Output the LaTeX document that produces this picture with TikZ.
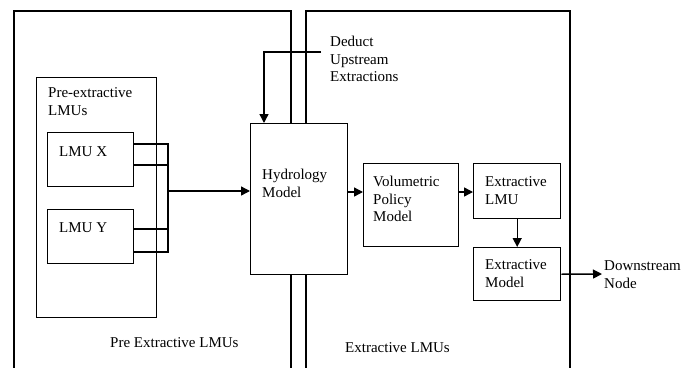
\documentclass[tikz,border=0pt]{standalone}
\usepackage{fontspec}
\setmainfont{Liberation Serif}
\usetikzlibrary{arrows.meta,calc}
\begin{document}
\begin{tikzpicture}[x=1pt,y=-1pt,
  ln/.style={line width=1.4pt},
  box/.style={draw,line width=1.4pt,fill=white,rectangle,inner sep=0pt,anchor=north west},
  lbl/.style={anchor=north west,inner sep=0pt,align=left,font=\fontsize{15}{17.5}\selectfont},
  arr/.style={ln,-{Triangle[length=9pt,width=9pt]}}]
\useasboundingbox (0,0) rectangle (696,367);
\fill[white] (0,0) rectangle (696,367);
% panels
\draw[ln] (14,370) -- (14,11) -- (291,11) -- (291,370);
\draw[ln] (306,370) -- (306,11) -- (570,11) -- (570,370);
% boxes
\node[box,minimum width=120pt,minimum height=240pt] (pre) at (36,77) {};
\node[box,minimum width=86pt,minimum height=54pt] (lmux) at (47,132) {};
\node[box,minimum width=86pt,minimum height=54pt] (lmuy) at (47,209) {};
\node[box,minimum width=97pt,minimum height=151pt] (hyd) at (250,123) {};
\node[box,minimum width=95pt,minimum height=83pt] (vol) at (363,163) {};
\node[box,minimum width=87pt,minimum height=55pt] (elmu) at (473,163) {};
\node[box,minimum width=87pt,minimum height=53pt] (emod) at (473,247) {};
% texts
\node[lbl] (tpre) at (48,85.4) {\strut Pre-extractive\\LMUs};
\node[lbl] (tx) at (59,144.4) {\strut LMU X};
\node[lbl] (ty) at (59,220.4) {\strut LMU Y};
\node[lbl] (thyd) at (262,167.4) {\strut Hydrology\\Model};
\node[lbl] (tded) at (330,34.4) {\strut Deduct\\Upstream\\Extractions};
\node[lbl] (tvol) at (373,174.4) {\strut Volumetric\\Policy\\Model};
\node[lbl] (telmu) at (485,174.4) {\strut Extractive\\LMU};
\node[lbl] (temod) at (485,257.4) {\strut Extractive\\Model};
\node[lbl] (tdown) at (604,258.4) {\strut Downstream\\Node};
\node[lbl] (tpanl) at (110,335.4) {\strut Pre Extractive LMUs};
\node[lbl] (tpanr) at (345,340.4) {\strut Extractive LMUs};
% connectors
\coordinate (hub) at (168,191);
\draw[ln] (lmux.east |- 0,144) -| (hub);
\draw[ln] (lmux.east |- 0,165) -| (hub);
\draw[ln] (lmuy.east |- 0,229) -| (hub);
\draw[ln] (lmuy.east |- 0,252) -| (hub);
\draw[arr] (hub) -- (hyd.west |- hub);
\coordinate (ded) at (321,52);
\draw[arr] (ded) -| ($(hyd.north west)+(14,0)$);
\draw[arr] (hyd.east |- 0,192) -- (vol.west |- 0,192);
\draw[arr] (vol.east |- 0,192) -- (elmu.west |- 0,192);
\draw[arr] (elmu.south) -- (emod.north);
\coordinate (down) at (602,274);
\draw[arr] (emod.east) -- (down);
\end{tikzpicture}
\end{document}
